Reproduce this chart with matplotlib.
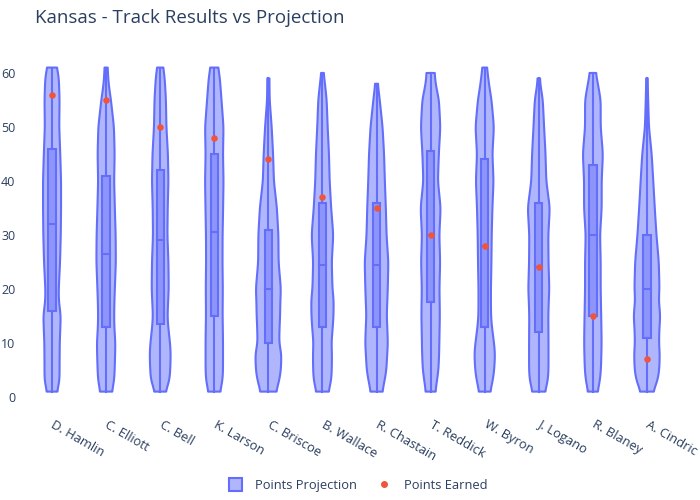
import numpy as np
import matplotlib
matplotlib.use("Agg")
import matplotlib.pyplot as plt
import matplotlib.transforms as mtransforms
from matplotlib.patches import Rectangle, Patch
from matplotlib.lines import Line2D

plt.rcParams['font.family'] = ['Open Sans', 'DejaVu Sans']

# drivers and the box stats of each projection
drivers = ["D. Hamlin", "C. Elliott", "C. Bell", "K. Larson", "C. Briscoe", "B. Wallace",
           "R. Chastain", "T. Reddick", "W. Byron", "J. Logano", "R. Blaney", "A. Cindric"]
proj_min = [1, 1, 1, 1, 1, 1, 1, 1, 1, 1, 1, 1]
proj_max = [61, 61, 61, 61, 59, 60, 58, 60, 61, 59, 60, 59]
proj_q1 = [16, 13, 13.5, 15, 10, 13, 13, 17.5, 13, 12, 15, 11]
proj_median = [32, 26.5, 29, 30.5, 20, 24.5, 24.5, 30, 28, 24, 30, 20]
proj_q3 = [46, 41, 42, 45, 31, 36, 36, 45.5, 44, 36, 43, 30]
points_earned = [56, 55, 50, 48, 44, 37, 35, 30, 28, 24, 15, 7]

# violin density (half width) read at these levels
levels = [1, 3, 5, 8, 10, 13, 15, 18, 20, 25, 30, 35, 40, 45, 50, 55, 58, 60, 61]
dens_hamlin = [5, 7.5, 7.5, 7.6, 7.7, 8.3, 8.7, 6.7, 6.7, 8, 8.7, 9, 9, 8.2, 7.2, 7.5, 7, 6.3, 4.5]
dens_elliott = [5.8, 8, 8.5, 9, 9.2, 8.2, 8, 8.3, 8.7, 9.7, 9.5, 8.7, 8, 8.5, 7.8, 4.8, 2.5, 1.8, 1.5]
dens_bell = [5.3, 9.2, 10, 10.5, 9.8, 8, 7.3, 8, 8.5, 8.2, 7.2, 7.5, 8.2, 7.7, 6.2, 5.7, 4.8, 4, 2.8]
dens_larson = [5.8, 8.2, 8.7, 8.7, 8.7, 8.5, 8.3, 8.4, 8.5, 8.2, 8.3, 8.8, 9.2, 8.7, 9.2, 7.2, 6, 5, 3.7]
dens_briscoe = [7.7, 10.8, 12.5, 13, 10.8, 11.2, 11.7, 12, 12.5, 10.2, 10, 8.5, 5.5, 4.7, 3.3, 1.3, 1.1, 1, 1]
dens_wallace = [6, 8.7, 9.3, 9.5, 9, 10.3, 11, 11.2, 10, 9.3, 10.8, 8.7, 7.2, 6.5, 5.2, 4.2, 2.5, 1.2, 1.2]
dens_chastain = [5.8, 8, 9.8, 10.7, 11.3, 10.7, 10.2, 10.8, 11.2, 11.8, 10, 9.3, 8.3, 7.5, 6, 3.2, 1.3, 1.3, 1.3]
dens_reddick = [4.8, 6.3, 7.8, 8.5, 8.7, 9, 9.2, 9, 8.8, 9.5, 8.7, 10, 7.3, 8.2, 9.7, 8.3, 5, 4, 4]
dens_byron = [5.5, 8, 9.5, 10.3, 9.3, 7.2, 6.3, 6.2, 6.2, 6.7, 7, 7.7, 8.8, 7.7, 9.2, 6.8, 4.2, 3, 2.2]
dens_logano = [6.2, 9, 9.7, 9.7, 9.7, 9.6, 9.5, 10, 10.5, 9.7, 9.5, 11, 7.5, 6.7, 5.3, 4, 1.5, 0.8, 0.8]
dens_blaney = [4.7, 7, 8, 8.5, 8.7, 8.5, 8.3, 8, 7.8, 7.8, 7.2, 8.8, 8.8, 10, 7.8, 7.8, 5, 3, 3]
dens_cindric = [6.2, 10.5, 12.3, 12.8, 12, 12.5, 13.3, 11.8, 12.5, 11.8, 9.5, 7.8, 6.3, 4.7, 2, 1.2, 0.8, 0.8, 0.8]
densities = [dens_hamlin, dens_elliott, dens_bell, dens_larson, dens_briscoe, dens_wallace,
             dens_chastain, dens_reddick, dens_byron, dens_logano, dens_blaney, dens_cindric]

blue = "#636efa"
red = "#EF553B"
txt = "#2a3f5f"

fig = plt.figure(figsize=(7, 5), dpi=100)
ax = fig.add_axes([25 / 700, 1 - 405 / 500, 649 / 700, 345 / 500])
ax.set_xlim(-0.5, len(drivers) - 0.5)
ax.set_ylim(-1.48, 62.4)

px = 1 / 54.0  # category units per pixel
kern = np.hanning(31)
kern = kern / kern.sum()
for i, d in enumerate(drivers):
    yy = np.linspace(proj_min[i], proj_max[i], 400)
    w = np.interp(yy, levels, densities[i])
    # smooth the outline a little so it looks like a kde
    wp = np.concatenate([np.full(15, w[0]), w, np.full(15, w[-1])])
    w = np.convolve(wp, kern, mode="valid") * px
    ax.fill_betweenx(yy, i - w, i + w, facecolor=blue, alpha=0.5, lw=0, zorder=2)
    ax.fill_betweenx(yy, i - w, i + w, facecolor="none", edgecolor=blue, lw=1.5, zorder=3)
    bw = 3.7 * px
    ax.plot([i, i], [proj_min[i], proj_q1[i]], color=blue, lw=1.5, zorder=4)
    ax.plot([i, i], [proj_q3[i], proj_max[i]], color=blue, lw=1.5, zorder=4)
    ax.add_patch(Rectangle((i - bw, proj_q1[i]), 2 * bw, proj_q3[i] - proj_q1[i],
                           facecolor=blue, alpha=0.45, lw=0, zorder=4))
    ax.add_patch(Rectangle((i - bw, proj_q1[i]), 2 * bw, proj_q3[i] - proj_q1[i],
                           facecolor="none", edgecolor=blue, lw=1.5, zorder=5))
    ax.plot([i - bw, i + bw], [proj_median[i], proj_median[i]], color=blue, lw=1.5, zorder=5)

ax.scatter(range(len(drivers)), points_earned, s=22, color=red, zorder=6, linewidths=0)

for s in ax.spines.values():
    s.set_visible(False)
ax.set_yticks([0, 10, 20, 30, 40, 50, 60])
ax.tick_params(axis="both", length=0, labelsize=9, labelcolor=txt)
ax.tick_params(axis="y", pad=7)
ax.set_xticks(range(len(drivers)))
ax.set_xticklabels(drivers, rotation=-30, ha="left", va="top", rotation_mode="anchor")
off = mtransforms.ScaledTranslation(2.4 / 72, -6 / 72, fig.dpi_scale_trans)
for lab in ax.get_xticklabels():
    lab.set_transform(lab.get_transform() + off)
    lab.set_fontsize(9.3)

fig.text(35 / 700, 1 - 18 / 500, "Kansas - Track Results vs Projection", fontsize=13.5,
         color=txt, va="center", ha="left")

handles = [Patch(facecolor="#b1b6fc", edgecolor=blue, lw=1.5),
           Line2D([], [], marker="o", ls="none", color=red, markersize=4)]
fig.legend(handles, ["Points Projection", "Points Earned"], loc="center",
           bbox_to_anchor=(0.512, 1 - 485 / 500), ncol=2, frameon=False, fontsize=9.3,
           labelcolor=txt, handlelength=1.0, handleheight=1.2, columnspacing=1.6,
           handletextpad=1.0)

fig.savefig("out.png", dpi=100)
